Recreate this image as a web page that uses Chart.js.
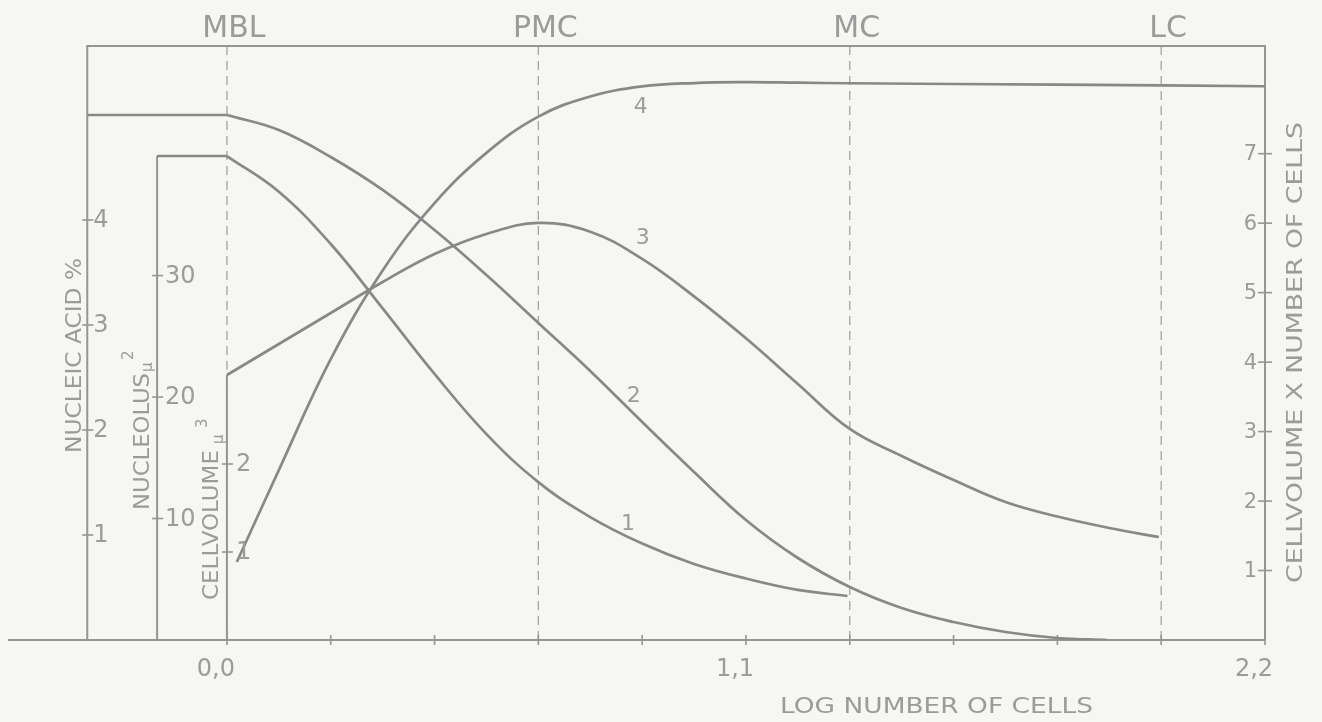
<!DOCTYPE html>
<html>
<head>
<meta charset="utf-8">
<script src="https://cdn.jsdelivr.net/npm/chart.js@4.4.1/dist/chart.umd.min.js"></script>
<style>
  html, body { margin: 0; padding: 0; background: #f6f6f3; }
  #wrap { width: 1322px; height: 722px; position: relative; }
</style>
</head>
<body>
<div id="wrap"><canvas id="c"></canvas></div>
<script>
// ---------- data (x = log number of cells) ----------
const stageNames = ['MBL', 'PMC', 'MC', 'LC'];
const stageX = [0.0, 0.66, 1.32, 1.98];

const xTickValues = [0, 0.22, 0.44, 0.66, 0.88, 1.1, 1.32, 1.54, 1.76, 1.98, 2.2];
const xLabelValues = [0, 1.1, 2.2];
const xLabelTexts = ['0,0', '1,1', '2,2'];

// left axes positions (in log units) and their ticks
const naAxisX = -0.296;   // NUCLEIC ACID %
const nuAxisX = -0.148;   // NUCLEOLUS µ²
const cvAxisX = 0.0;      // CELLVOLUME µ³
const naTicks = [1, 2, 3, 4];
const nuTicks = [10, 20, 30];
const cvTicks = [1, 2];
const rTicks = [1, 2, 3, 4, 5, 6, 7];   // CELLVOLUME X NUMBER OF CELLS

// curve 1 : nucleolus (µ²)
const c1x = [0, 0.11, 0.22, 0.33, 0.44, 0.55, 0.66, 0.77, 0.88, 0.99, 1.10, 1.21, 1.315];
const c1y = [39.84, 36.9, 32.6, 27.3, 21.9, 16.95, 13.0, 10.12, 7.94, 6.26, 5.06, 4.12, 3.62];
// curve 2 : nucleic acid %
const c2x = [0, 0.11, 0.22, 0.33, 0.44, 0.55, 0.66, 0.77, 0.88, 0.99, 1.10, 1.21, 1.32, 1.43, 1.54, 1.65, 1.76, 1.865];
const c2y = [5.0, 4.857, 4.60, 4.286, 3.905, 3.476, 3.019, 2.562, 2.076, 1.60, 1.143, 0.781, 0.505, 0.305, 0.171, 0.076, 0.019, 0.0];
// curve 3 : cellvolume (µ³)
const c3x = [0, 0.11, 0.22, 0.33, 0.44, 0.55, 0.66, 0.77, 0.88, 0.99, 1.10, 1.21, 1.32, 1.43, 1.54, 1.65, 1.76, 1.87, 1.975];
const c3y = [3.011, 3.364, 3.716, 4.068, 4.386, 4.614, 4.739, 4.64, 4.33, 3.905, 3.428, 2.909, 2.398, 2.091, 1.818, 1.568, 1.403, 1.273, 1.17];
// curve 4 : cellvolume x number of cells
const c4x = [0.021, 0.11, 0.22, 0.33, 0.44, 0.55, 0.66, 0.77, 0.88, 0.99, 1.10, 1.21, 1.32, 1.76, 2.2];
const c4y = [1.122, 2.446, 4.043, 5.318, 6.288, 7.012, 7.534, 7.824, 7.968, 8.017, 8.029, 8.022, 8.014, 7.993, 7.971];

// curve number labels: [text, x, y, axis]
const curveLabels = [['1', 0.85, 9.5, 'yNU'], ['2', 0.862, 2.32, 'yNA'], ['3', 0.881, 4.56, 'yCV'], ['4', 0.877, 7.67, 'yR']];

// ---------- styles ----------
const LINE = '#888888';
const AXIS = '#959595';
const DASH = '#a3a3a3';
const TEXT = '#9b9b9b';
const FONT = '"DejaVu Sans", "Liberation Sans", sans-serif';

const pts = (xs, ys) => xs.map((x, i) => ({ x, y: ys[i] }));

const curveStyle = {
  borderColor: LINE, borderWidth: 2.7, pointRadius: 0, fill: false,
  cubicInterpolationMode: 'default', tension: 0.4
};
const flatStyle = { borderColor: LINE, borderWidth: 2.5, pointRadius: 0, fill: false, tension: 0 };

const datasets = [
  Object.assign({ label: 'flat1', yAxisID: 'yNU', data: pts([nuAxisX, c1x[0]], [c1y[0], c1y[0]]) }, flatStyle),
  Object.assign({ label: 'flat2', yAxisID: 'yNA', data: pts([naAxisX, c2x[0]], [c2y[0], c2y[0]]) }, flatStyle),
  Object.assign({ label: '1', yAxisID: 'yNU', data: pts(c1x, c1y) }, curveStyle),
  Object.assign({ label: '2', yAxisID: 'yNA', data: pts(c2x, c2y) }, curveStyle),
  Object.assign({ label: '3', yAxisID: 'yCV', data: pts(c3x, c3y) }, curveStyle),
  Object.assign({ label: '4', yAxisID: 'yR', data: pts(c4x, c4y) }, curveStyle)
];

function fitText(ctx, text, x, y, width, size, rot) {
  ctx.save();
  ctx.font = size + 'px ' + FONT;
  ctx.translate(x, y);
  if (rot) ctx.rotate(rot);
  const w = ctx.measureText(text).width;
  if (width) ctx.scale(width / w, 1);
  ctx.textAlign = 'left';
  ctx.textBaseline = 'alphabetic';
  ctx.fillText(text, 0, 0);
  ctx.restore();
}
function seg(ctx, x1, y1, x2, y2) {
  ctx.beginPath(); ctx.moveTo(x1, y1); ctx.lineTo(x2, y2); ctx.stroke();
}

const paper = {
  id: 'paper',
  beforeDatasetsDraw(chart) {
    const { ctx, chartArea: a, scales: s } = chart;
    const X = v => s.x.getPixelForValue(v);
    ctx.save();
    // stage dashed lines
    ctx.strokeStyle = DASH; ctx.lineWidth = 1.3; ctx.setLineDash([9, 6]);
    stageX.forEach(v => seg(ctx, X(v), a.top, X(v), a.bottom));
    ctx.setLineDash([]);
    // frame
    ctx.strokeStyle = AXIS; ctx.lineWidth = 2;
    seg(ctx, a.left, a.bottom, a.right, a.bottom);
    seg(ctx, X(naAxisX) - 1, a.top, a.right + 1, a.top);
    seg(ctx, a.right, a.top, a.right, a.bottom);
    // left axes
    seg(ctx, X(naAxisX), a.top, X(naAxisX), a.bottom);
    seg(ctx, X(nuAxisX), s.yNU.getPixelForValue(c1y[0]), X(nuAxisX), a.bottom);
    seg(ctx, X(cvAxisX), s.yCV.getPixelForValue(c3y[0]), X(cvAxisX), a.bottom);
    // ticks
    ctx.lineWidth = 1.6;
    xTickValues.forEach(v => seg(ctx, X(v), a.bottom - 5, X(v), a.bottom + 5));
    naTicks.forEach(v => { const y = s.yNA.getPixelForValue(v); seg(ctx, X(naAxisX) - 5, y, X(naAxisX) + 6, y); });
    nuTicks.forEach(v => { const y = s.yNU.getPixelForValue(v); seg(ctx, X(nuAxisX) - 5, y, X(nuAxisX) + 6, y); });
    cvTicks.forEach(v => { const y = s.yCV.getPixelForValue(v); seg(ctx, X(cvAxisX) - 5, y, X(cvAxisX) + 6, y); });
    rTicks.forEach(v => { const y = s.yR.getPixelForValue(v); seg(ctx, a.right - 7, y, a.right + 7, y); });
    ctx.restore();
  },
  afterDatasetsDraw(chart) {
    const { ctx, chartArea: a, scales: s } = chart;
    const X = v => s.x.getPixelForValue(v);
    ctx.save();
    ctx.fillStyle = TEXT;
    // stage names on top
    ctx.font = '30px ' + FONT; ctx.textAlign = 'center'; ctx.textBaseline = 'alphabetic';
    stageNames.forEach((t, i) => ctx.fillText(t, X(stageX[i]) + 7, a.top - 9));
    // x tick labels
    ctx.font = '24px ' + FONT; ctx.textAlign = 'center';
    xLabelValues.forEach((v, i) => ctx.fillText(xLabelTexts[i], X(v) - 11, a.bottom + 36));
    // left tick labels
    ctx.textAlign = 'left'; ctx.textBaseline = 'middle';
    naTicks.forEach(v => ctx.fillText(String(v), X(naAxisX) + 6, s.yNA.getPixelForValue(v) + 1));
    nuTicks.forEach(v => ctx.fillText(String(v), X(nuAxisX) + 8, s.yNU.getPixelForValue(v) + 1));
    cvTicks.forEach(v => ctx.fillText(String(v), X(cvAxisX) + 9, s.yCV.getPixelForValue(v) + 1));
    // right tick labels
    ctx.font = '21px ' + FONT; ctx.textAlign = 'right';
    rTicks.forEach(v => ctx.fillText(String(v), a.right - 8, s.yR.getPixelForValue(v) + 1));
    // curve numbers
    ctx.font = '22px ' + FONT; ctx.textAlign = 'center';
    curveLabels.forEach(([t, x, y, ax]) => ctx.fillText(t, X(x), s[ax].getPixelForValue(y)));
    // axis titles
    const R = -Math.PI / 2;
    fitText(ctx, 'LOG NUMBER OF CELLS', 780, 713, 313, 22, 0);
    fitText(ctx, 'CELLVOLUME X NUMBER OF CELLS', 1302, 583, 461, 22, R);
    fitText(ctx, 'NUCLEIC ACID %', 81, 453, 195, 22, R);
    const nuX = X(nuAxisX), cvX = X(cvAxisX);
    fitText(ctx, 'NUCLEOLUS', nuX - 8, 510, 137, 22, R);
    fitText(ctx, 'µ', nuX - 5, 372, 0, 15, R);
    fitText(ctx, '2', nuX - 24, 360, 0, 15, R);
    fitText(ctx, 'CELLVOLUME', cvX - 9, 600, 150, 22, R);
    fitText(ctx, 'µ', cvX - 4, 444, 0, 15, R);
    fitText(ctx, '3', cvX - 20, 428, 0, 15, R);
    ctx.restore();
  }
};

new Chart(document.getElementById('c'), {
  type: 'line',
  data: { datasets },
  options: {
    responsive: true,
    maintainAspectRatio: false,
    animation: false,
    layout: { padding: { left: 8, right: 57, top: 46, bottom: 82 } },
    plugins: { legend: { display: false }, tooltip: { enabled: false }, title: { display: false } },
    events: [],
    scales: {
      x: { type: 'linear', min: -0.464, max: 2.2, display: false },
      yNA: { type: 'linear', position: 'left', min: 0, max: 5.657, display: false },
      yNU: { type: 'linear', position: 'left', min: 0, max: 48.9, display: false },
      yCV: { type: 'linear', position: 'left', min: 0, max: 6.75, display: false },
      yR: { type: 'linear', position: 'right', min: 0, max: 8.55, display: false }
    }
  },
  plugins: [paper]
});
</script>
</body>
</html>
